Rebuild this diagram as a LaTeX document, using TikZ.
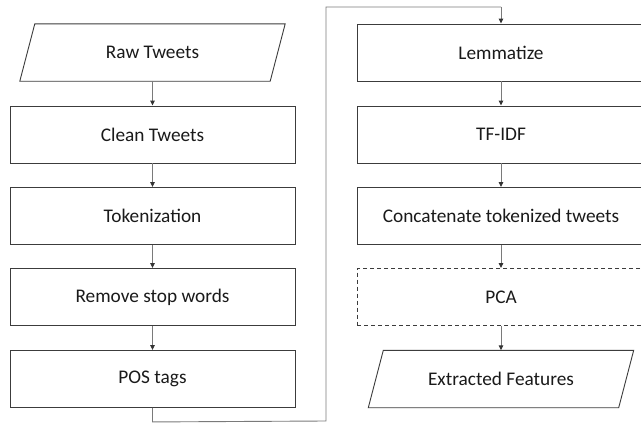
\documentclass[tikz,border=0pt]{standalone}
\usepackage{fontspec}
\setmainfont{Carlito}
\usetikzlibrary{arrows.meta,calc}
\definecolor{boxline}{HTML}{3C3C3C}
\definecolor{linkline}{HTML}{7A7A7A}
\definecolor{tipcol}{HTML}{333333}
\definecolor{txt}{HTML}{1A1A1A}
\begin{document}
\begin{tikzpicture}[x=1pt,y=-1pt,
  stepbox/.style={draw=boxline,line width=0.9pt,minimum width=285pt,minimum height=57pt,
    inner sep=0pt,font=\fontsize{19.3}{22}\selectfont,text=txt},
  rstepbox/.style={stepbox,minimum width=288pt},
  iobox/.style={draw=none,minimum width=250pt,minimum height=57pt,inner sep=0pt,
    font=\fontsize{19.3}{22}\selectfont,text=txt},
  pcabox/.style={rstepbox,dash pattern=on 4pt off 3pt},
  link/.style={draw=linkline,line width=0.9pt,-{Triangle[length=5pt,width=4.5pt,color=tipcol]}},
  plainlink/.style={draw=linkline,line width=0.9pt}]
\clip (0,0) rectangle (641,423);
\fill[white] (0,0) rectangle (641,423);

% left column
\node[iobox]   (raw)   at (152.5,52.5) {Raw Tweets};
\node[stepbox] (clean) at (152.5,134.5) {Clean Tweets};
\node[stepbox] (tok)   at (152.5,216) {Tokenization};
\node[stepbox] (stop)  at (152.5,297) {Remove stop words};
\node[stepbox] (pos)   at (152.5,379) {POS tags};

% right column
\node[rstepbox] (lem)  at (501,52.5) {Lemmatize};
\node[rstepbox] (tfidf) at (501,134.5) {TF-IDF};
\node[rstepbox] (conc) at (501,216) {Concatenate tokenized tweets};
\node[pcabox]   (pca)  at (501,297) {PCA};
\node[iobox]    (feat) at (501,379) {Extracted Features};

% input / output parallelograms
\foreach \n in {raw,feat}{
  \draw[boxline,line width=0.9pt]
    ([xshift=7.5pt]\n.north west) -- ([xshift=7.5pt]\n.north east)
    -- ([xshift=-7.5pt]\n.south east) -- ([xshift=-7.5pt]\n.south west) -- cycle;
}

% connectors
\draw[link] (raw) -- (clean);
\draw[link] (clean) -- (tok);
\draw[link] (tok) -- (stop);
\draw[link] (stop) -- (pos);
\coordinate (b1) at ($(pos.south)+(0,14)$);
\coordinate (b2) at (326,421);
\coordinate (t1) at (326,7);
\coordinate (t2) at (501,7);
\draw[plainlink] (pos.south) -- (b1) -- (b2) -- (t1) -- (t2);
\draw[link] (t2) -- (lem.north);
\draw[link] (lem) -- (tfidf);
\draw[link] (tfidf) -- (conc);
\draw[link] (conc) -- (pca);
\draw[link] (pca) -- (feat);
\end{tikzpicture}
\end{document}
